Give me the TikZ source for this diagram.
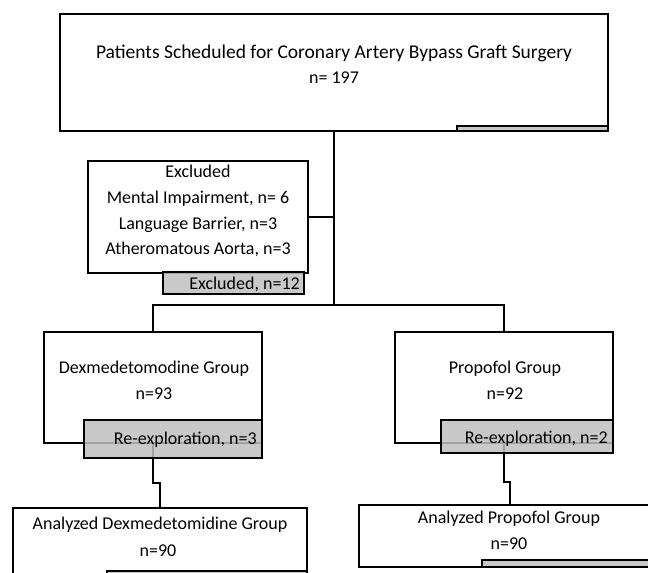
\documentclass[tikz,border=0pt]{standalone}
\usepackage{fontspec}
\setmainfont{Carlito}
\usetikzlibrary{positioning,calc}

\begin{document}
\begin{tikzpicture}[
      x=1pt, y=-1pt,
      flowbox/.style={
         rectangle,
         draw=black,
         line width=2pt,
         fill=white,
         inner sep=0pt},
      shadebox/.style={
         flowbox,
         fill=gray!50,
         fill opacity=0.85},
      flowtext/.style={
         anchor=base,
         inner sep=0pt,
         font=\fontsize{18}{21}\selectfont},
      myline/.style={line width=2pt}
      ]
      \useasboundingbox (0,0) rectangle (648,573);
      \clip (0,0) rectangle (648,573);
      % boxes
      \node[flowbox,minimum width=548pt,minimum height=117pt] (top) at (334,72.5) {};
      \node[flowbox,minimum width=220pt,minimum height=112pt] (excl) at (198,217) {};
      \node[flowbox,minimum width=218pt,minimum height=111pt] (dex) at (153,387.5) {};
      \node[flowbox,minimum width=218pt,minimum height=111pt] (pro) at (504,387.5) {};
      \node[flowbox,minimum width=294pt,minimum height=69pt] (anaD) at (160,542.5) {};
      \node[flowbox,minimum width=301pt,minimum height=62pt] (anaP) at (509.5,536) {};
      \coordinate (split) at (334,305);

      % connectors
      \draw[myline] (top.south) -- (split);
      \draw[myline] (excl.east) -- (excl.east -| split);
      \draw[myline] (dex.north) |- (split) -| (pro.north);
      \draw[myline] (dex.south) -- ++(0,39) -| (anaD.north);
      \draw[myline] (pro.south) -- ++(0,38) -| (anaP.north);

      % grey boxes
      \node[shadebox,minimum width=151pt,minimum height=5pt] (topbar) at (532.5,128.5) {};
      \node[shadebox,minimum width=141pt,minimum height=22pt] (exclN) at (233.5,283) {};
      \node[shadebox,minimum width=178pt,minimum height=38pt] (dexre) at (173,439) {};
      \node[shadebox,minimum width=172pt,minimum height=33pt] (prore) at (527,436.5) {};
      \node[shadebox,minimum width=200pt,minimum height=6pt] (anaDbar) at (207,574) {};
      \node[shadebox,minimum width=178pt,minimum height=7pt] (anaPbar) at (571,563.5) {};

      % texts
      \node[flowtext,font=\fontsize{19.5}{22}\selectfont] (t1) at (334,58) {Patients Scheduled for Coronary Artery Bypass Graft Surgery};
      \node[flowtext] (t2) at (334,83) {n= 197};
      \foreach \y/\txt [count=\k] in {177/Excluded,
                                     203/{Mental Impairment, n= 6},
                                     229/{Language Barrier, n=3},
                                     254/{Atheromatous Aorta, n=3}}
         \node[flowtext] (e\k) at (198,\y) {\txt};
      \node[flowtext,anchor=base east] (e5) at (300,289) {Excluded, n=12};
      \node[flowtext] (d1) at (154,373) {Dexmedetomodine Group};
      \node[flowtext] (d2) at (154,399) {n=93};
      \node[flowtext,anchor=base east] (d3) at (257,444) {Re-exploration, n=3};
      \node[flowtext] (p1) at (505,373) {Propofol Group};
      \node[flowtext] (p2) at (505,399) {n=92};
      \node[flowtext,anchor=base east] (p3) at (608,443) {Re-exploration, n=2};
      \node[flowtext] (a1) at (160,529) {Analyzed Dexmedetomidine Group};
      \node[flowtext] (a2) at (158,556) {n=90};
      \node[flowtext] (a3) at (509,523) {Analyzed Propofol Group};
      \node[flowtext] (a4) at (509,549) {n=90};
\end{tikzpicture}
\end{document}
